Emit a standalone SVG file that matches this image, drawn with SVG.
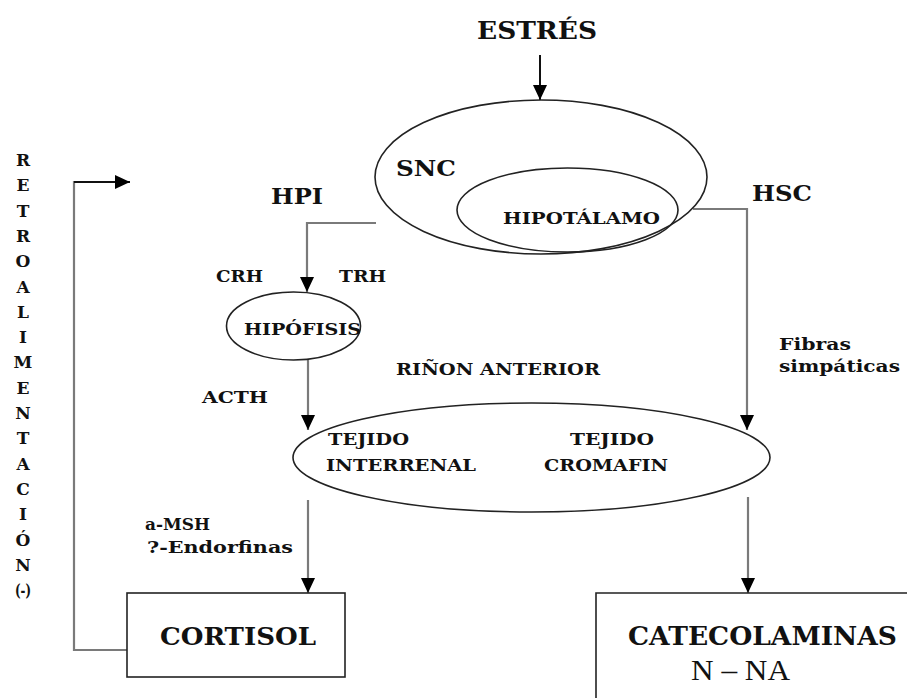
<svg xmlns="http://www.w3.org/2000/svg" width="907" height="698" viewBox="0 0 907 698">
<style>
text{font-family:"DejaVu Serif","Liberation Serif",serif;font-weight:bold;fill:#111}
.sh{fill:none;stroke:#222;stroke-width:1.6}
.cn{fill:none;stroke:#7a7a7a;stroke-width:2.2}
.bk{fill:none;stroke:#111;stroke-width:2}
.s14{font-size:17px}
.s20{font-size:23px}
.s22{font-size:25px}
.v{font-size:17px;text-anchor:middle}
</style>
<defs>
<marker id="ah" viewBox="0 0 15 14" refX="15" refY="7" markerWidth="15" markerHeight="14" markerUnits="userSpaceOnUse" orient="auto">
<path d="M0 0 L15 7 L0 14 Z" fill="#000"/>
</marker>
</defs>
<g id="connectors">
<path class="bk" d="M540 55 V100" marker-end="url(#ah)"/>
<path class="cn" d="M376 223 H307 V292" marker-end="url(#ah)"/>
<path class="cn" d="M308 360 V430" marker-end="url(#ah)"/>
<path class="cn" d="M693 209 H747 V430" marker-end="url(#ah)"/>
<path class="cn" d="M308 500 V593" marker-end="url(#ah)"/>
<path class="cn" d="M748 497 V593" marker-end="url(#ah)"/>
<path class="cn" d="M127 650 H74 V182 H90"/>
<path class="bk" d="M74 182 H130" marker-end="url(#ah)"/>
</g>
<g id="estres"><text class="s22" x="477" y="39" textLength="120" lengthAdjust="spacingAndGlyphs">ESTRÉS</text></g>
<g id="snc">
<ellipse class="sh" cx="541" cy="177" rx="166" ry="77"/>
<text class="s20" x="396" y="176" textLength="60" lengthAdjust="spacingAndGlyphs">SNC</text>
</g>
<g id="hipotalamo">
<ellipse class="sh" cx="567.5" cy="210" rx="110.5" ry="42"/>
<text class="s14" x="503" y="224" textLength="157" lengthAdjust="spacingAndGlyphs">HIPOTÁLAMO</text>
</g>
<g id="hpi"><text class="s20" x="271" y="204" textLength="52" lengthAdjust="spacingAndGlyphs">HPI</text></g>
<g id="hsc"><text class="s20" x="752" y="201" textLength="60" lengthAdjust="spacingAndGlyphs">HSC</text></g>
<g id="crh"><text class="s14" x="216" y="282" textLength="47" lengthAdjust="spacingAndGlyphs">CRH</text></g>
<g id="trh"><text class="s14" x="339" y="282" textLength="47" lengthAdjust="spacingAndGlyphs">TRH</text></g>
<g id="hipofisis">
<ellipse class="sh" cx="293.5" cy="326" rx="67" ry="34"/>
<text class="s14" x="244" y="335" textLength="117" lengthAdjust="spacingAndGlyphs">HIPÓFISIS</text>
</g>
<g id="acth"><text class="s14" x="202" y="403" textLength="66" lengthAdjust="spacingAndGlyphs">ACTH</text></g>
<g id="rinon"><text class="s14" x="396" y="375" textLength="204" lengthAdjust="spacingAndGlyphs">RIÑON ANTERIOR</text></g>
<g id="fibras">
<text class="s14" x="779" y="350" textLength="72" lengthAdjust="spacingAndGlyphs">Fibras</text>
<text class="s14" x="779" y="372" textLength="121" lengthAdjust="spacingAndGlyphs">simpáticas</text>
</g>
<g id="rinon-anterior">
<ellipse class="sh" cx="531.5" cy="457.5" rx="238.5" ry="54.5"/>
<text class="s14" x="328" y="445" textLength="81" lengthAdjust="spacingAndGlyphs">TEJIDO</text>
<text class="s14" x="326" y="471" textLength="150" lengthAdjust="spacingAndGlyphs">INTERRENAL</text>
<text class="s14" x="570" y="445" textLength="84" lengthAdjust="spacingAndGlyphs">TEJIDO</text>
<text class="s14" x="544" y="471" textLength="124" lengthAdjust="spacingAndGlyphs">CROMAFIN</text>
</g>
<g id="msh">
<text class="s14" x="145" y="530" textLength="65" lengthAdjust="spacingAndGlyphs">a-MSH</text>
<text class="s14" x="147" y="553" textLength="146" lengthAdjust="spacingAndGlyphs">?-Endorfinas</text>
</g>
<g id="cortisol">
<rect class="sh" x="127" y="593" width="218" height="84"/>
<text class="s22" x="160" y="645" textLength="156" lengthAdjust="spacingAndGlyphs">CORTISOL</text>
</g>
<g id="catecolaminas">
<path class="sh" d="M596 698 V593 H907"/>
<text x="628" y="645" style="font-size:26px" textLength="269" lengthAdjust="spacingAndGlyphs">CATECOLAMINAS</text>
<text x="691" y="680" style="font-family:'Liberation Serif',serif;font-weight:normal;font-size:29px" textLength="99" lengthAdjust="spacingAndGlyphs">N – NA</text>
</g>
<g id="retroalimentacion">
<text class="v" x="23" y="166">R</text>
<text class="v" x="23" y="191.3">E</text>
<text class="v" x="23" y="216.6">T</text>
<text class="v" x="23" y="241.9">R</text>
<text class="v" x="23" y="267.2">O</text>
<text class="v" x="23" y="292.5">A</text>
<text class="v" x="23" y="317.8">L</text>
<text class="v" x="23" y="343.1">I</text>
<text class="v" x="23" y="368.4">M</text>
<text class="v" x="23" y="393.7">E</text>
<text class="v" x="23" y="419">N</text>
<text class="v" x="23" y="444.3">T</text>
<text class="v" x="23" y="469.6">A</text>
<text class="v" x="23" y="494.9">C</text>
<text class="v" x="23" y="520.2">I</text>
<text class="v" x="23" y="545.5">Ó</text>
<text class="v" x="23" y="570.8">N</text>
<text class="v" x="23" y="596.1" textLength="16" lengthAdjust="spacingAndGlyphs">(-)</text>
</g>
</svg>
